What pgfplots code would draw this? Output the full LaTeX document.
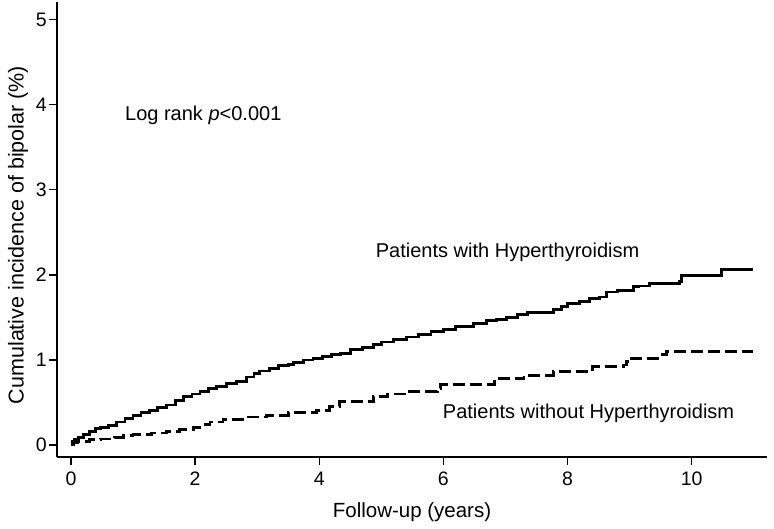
\documentclass[border=0pt]{standalone}
\usepackage{fontspec}
\setmainfont{Liberation Sans}
\usepackage{pgfplots}
\pgfplotsset{compat=1.18}
\begin{document}
\begin{tikzpicture}
\begin{axis}[
  scale only axis,
  width=709.4pt, height=454.7pt,
  xmin=-0.22, xmax=11.21,
  ymin=-0.138, ymax=5.21,
  axis x line=bottom, axis y line=left,
  axis line style={-, line width=2pt},
  xtick={0,2,4,6,8,10}, ytick={0,1,2,3,4,5},
  tick style={line width=1.2pt, black},
  tick align=outside, major tick length=8pt,
  tick label style={font=\fontsize{19.5}{24}\selectfont},
  xticklabel style={yshift=-4pt},
  yticklabel style={xshift=1pt},
  /pgf/number format/assume math mode=true,
  xlabel={Follow-up (years)},
  ylabel={Cumulative incidence of bipolar (\%)},
  xlabel style={font=\fontsize{20.5}{24}\selectfont, at={(rel axis cs:0.5,-0.122)}, anchor=center},
  ylabel style={font=\fontsize{21.5}{24}\selectfont, at={(rel axis cs:-0.0554,0.4876)}, anchor=center, rotate=0},
  clip=false,
]
\addplot[const plot, black, line width=2.8pt] coordinates {
(0,0) (0.02,0.04) (0.06,0.06) (0.12,0.09) (0.2,0.12) (0.3,0.16) (0.4,0.19)
(0.47,0.21) (0.6,0.23) (0.74,0.27) (0.87,0.31) (1.0,0.35) (1.13,0.38)
(1.27,0.41) (1.4,0.44) (1.54,0.47) (1.68,0.52) (1.81,0.57) (1.95,0.60)
(2.08,0.63) (2.22,0.66) (2.35,0.69) (2.5,0.72) (2.67,0.75) (2.83,0.80)
(2.95,0.84) (3.04,0.87) (3.2,0.90) (3.35,0.93) (3.5,0.95) (3.58,0.97)
(3.75,1.00) (3.9,1.02) (4.05,1.04) (4.2,1.06) (4.34,1.08) (4.5,1.12)
(4.7,1.15) (4.87,1.18) (5.0,1.21) (5.2,1.24) (5.41,1.27) (5.6,1.30)
(5.8,1.33) (6.0,1.36) (6.2,1.39) (6.48,1.43) (6.7,1.46) (6.85,1.48)
(7.02,1.50) (7.2,1.53) (7.35,1.56) (7.77,1.59) (7.9,1.63) (8.0,1.66)
(8.2,1.69) (8.35,1.72) (8.52,1.74) (8.63,1.80) (8.8,1.82) (9.06,1.86)
(9.15,1.87) (9.32,1.90) (9.81,1.92) (9.84,1.99) (10.48,2.06) (10.99,2.06)
};
\addplot[const plot, black, line width=2.8pt, dash pattern=on 12pt off 5pt] coordinates {
(0,0) (0.05,0.03) (0.1,0.04) (0.3,0.06) (0.47,0.07) (0.7,0.09) (0.85,0.11)
(1.0,0.12) (1.3,0.14) (1.54,0.16) (1.75,0.18) (1.97,0.21) (2.1,0.24)
(2.24,0.27) (2.45,0.30) (2.8,0.33) (3.15,0.35) (3.5,0.38) (3.96,0.41)
(4.17,0.45) (4.33,0.51) (4.87,0.57) (5.1,0.60) (5.41,0.63) (5.9,0.66)
(5.95,0.71) (6.83,0.75) (6.9,0.78) (7.3,0.82) (7.77,0.86) (8.4,0.92)
(8.9,0.94) (8.95,0.98) (9.0,1.02) (9.5,1.06) (9.6,1.10) (10.99,1.10)
};
\node[anchor=west, inner sep=0pt, font=\fontsize{20}{24}\selectfont] at (axis cs:0.87,3.88) {Log rank \textit{p}<0.001};
\node[anchor=west, inner sep=0pt, font=\fontsize{20}{24}\selectfont] at (axis cs:4.91,2.26) {Patients with Hyperthyroidism};
\node[anchor=west, inner sep=0pt, font=\fontsize{20}{24}\selectfont] at (axis cs:5.99,0.376) {Patients without Hyperthyroidism};
\end{axis}
\pgfresetboundingbox
\path[use as bounding box] ([shift={(-57.3pt,-72.3pt)}]current axis.south west) rectangle ([shift={(7.3pt,2pt)}]current axis.north east);
\end{tikzpicture}
\end{document}
